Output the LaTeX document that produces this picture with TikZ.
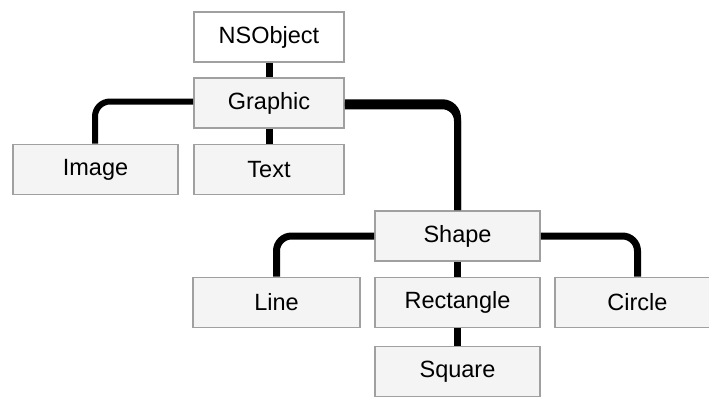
\documentclass[tikz,border=0pt]{standalone}
\usepackage{fontspec}
\setmainfont{Liberation Sans}
\begin{document}
\begin{tikzpicture}[x=1pt,y=-1pt,
  cls/.style={draw=boxgray,line width=1.6pt,fill=boxfill,minimum width=165pt,minimum height=50pt,inner sep=0pt,font=\fontsize{23.5}{27}\selectfont},
  link/.style={line width=7pt,rounded corners=15pt,black}]
\definecolor{boxgray}{HTML}{A0A0A0}
\definecolor{boxfill}{HTML}{F4F4F4}
\useasboundingbox (0,0) rectangle (709,397);
\begin{scope}
\clip (0,0) rectangle (709,397);
\node[cls,fill=white,minimum width=150pt] (nsobject) at (269,37) {NSObject};
\node[cls,minimum width=150pt] (graphic) at (269,103) {Graphic};
\node[cls] (image) at (95.5,169.5) {Image};
\node[cls,minimum width=150pt] (text) at (269,169.5) {Text};
\node[cls] (shape) at (457.5,236) {Shape};
\node[cls,minimum width=167pt] (line) at (276.5,302.5) {Line};
\node[cls] (rect) at (457.5,302.5) {Rectangle};
\node[cls] (circle) at (637.5,302.5) {Circle};
\node[cls] (square) at (457.5,371.5) {Square};
\end{scope}
\draw[link] (nsobject.south) -- (graphic.north);
\draw[link] (graphic.south) -- (text.north);
\draw[link,line width=6pt] (graphic.west |- 0,101.5) -| (image.north -| 95,0);
\draw[link] (graphic.east |- 0,102.8) -| (shape.north);
\draw[link] (graphic.east |- 0,105.8) -| (shape.north);
\draw[link] (shape.west) -| (line.north);
\draw[link] (shape.south) -- (rect.north);
\draw[link] (shape.east) -| (circle.north);
\draw[link] (rect.south) -- (square.north);
\end{tikzpicture}
\end{document}
